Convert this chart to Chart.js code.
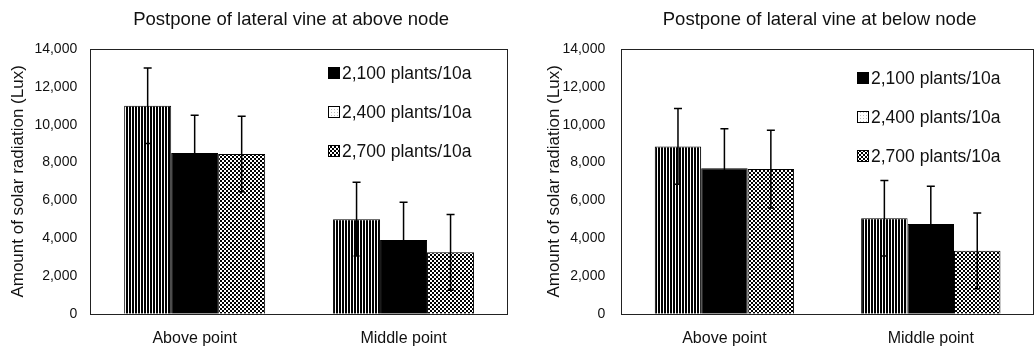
<!DOCTYPE html>
<html>
<head>
<meta charset="utf-8">
<script src="https://cdn.jsdelivr.net/npm/chart.js@4"></script>
<style>
  html, body { margin: 0; padding: 0; background: #fff; }
  .wrap { width: 1035px; height: 347px; display: flex; }
  canvas { display: block; }
</style>
</head>
<body>
<div class="wrap">
  <canvas id="left" width="517" height="347"></canvas>
  <canvas id="right" width="518" height="347"></canvas>
</div>
<script>
// categories + series (bar order: 2,400 / 2,100 / 2,700)
var categories = ['Above point', 'Middle point'];
var seriesNames = ['2,400 plants/10a', '2,100 plants/10a', '2,700 plants/10a'];
var legendOrder = [1, 0, 2];
var yMax = 14000;
var yStep = 2000;

// Postpone of lateral vine at above node
var aboveNode2400 = [11000, 5000];
var aboveNode2100 = [8500, 3900];
var aboveNode2700 = [8450, 3250];
var aboveNodeErr2400 = [2000, 1950];
var aboveNodeErr2100 = [2000, 2000];
var aboveNodeErr2700 = [2000, 2000];

// Postpone of lateral vine at below node
var belowNode2400 = [8850, 5050];
var belowNode2100 = [7700, 4750];
var belowNode2700 = [7650, 3330];
var belowNodeErr2400 = [2000, 2000];
var belowNodeErr2100 = [2080, 2000];
var belowNodeErr2700 = [2050, 2000];

Chart.defaults.font.family = '"Liberation Sans", Arial, sans-serif';
Chart.defaults.color = '#111';

function pattern(w, h, draw) {
  var c = document.createElement('canvas');
  c.width = w; c.height = h;
  var g = c.getContext('2d');
  g.fillStyle = '#fff';
  g.fillRect(0, 0, w, h);
  g.fillStyle = '#000';
  draw(g);
  return c.getContext('2d').createPattern(c, 'repeat');
}

var stripes = pattern(3, 1, function (g) { g.fillRect(0, 0, 2, 1); });
var checker = pattern(4, 4, function (g) { g.fillRect(0, 0, 2, 2); g.fillRect(2, 2, 2, 2); });
var lightDots = pattern(3, 3, function (g) { g.fillStyle = '#bbb'; g.fillRect(1, 1, 1, 1); });
var fills = [stripes, '#000', checker];
var legendFills = [lightDots, '#000', checker];

var extras = {
  id: 'extras',
  afterDatasetsDraw: function (chart) {
    var ctx = chart.ctx, y = chart.scales.y;
    ctx.save();
    ctx.strokeStyle = '#000';
    ctx.lineWidth = 1.5;
    chart.data.datasets.forEach(function (ds, i) {
      var meta = chart.getDatasetMeta(i);
      ds.errors.forEach(function (e, j) {
        var x = meta.data[j].x;
        var top = y.getPixelForValue(ds.data[j] + e);
        var bot = y.getPixelForValue(ds.data[j] - e);
        ctx.beginPath();
        ctx.moveTo(x, top); ctx.lineTo(x, bot);
        ctx.moveTo(x - 4, top); ctx.lineTo(x + 4, top);
        ctx.moveTo(x - 3, bot); ctx.lineTo(x + 3, bot);
        ctx.stroke();
      });
    });
    ctx.restore();
  },
  afterDraw: function (chart) {
    var ctx = chart.ctx, a = chart.chartArea;
    var opts = chart.options.plugins.extras;
    ctx.save();
    // frame round the plot
    ctx.strokeStyle = '#222';
    ctx.lineWidth = 1;
    ctx.strokeRect(Math.round(a.left) + 0.5, Math.round(a.top) + 0.5,
      Math.round(a.right - a.left) - 1, Math.round(a.bottom - a.top));
    // title over the plot
    ctx.fillStyle = '#111';
    ctx.font = '18.5px "Liberation Sans", Arial, sans-serif';
    ctx.textAlign = 'center';
    ctx.textBaseline = 'middle';
    ctx.fillText(opts.title, (a.left + a.right) / 2 - 8, 20);
    // legend inside the plot
    ctx.font = '17.5px "Liberation Sans", Arial, sans-serif';
    ctx.textAlign = 'left';
    legendOrder.forEach(function (k, n) {
      var bx = a.right - opts.legendRight;
      var cy = a.top + opts.legendTop + n * 39;
      ctx.fillStyle = legendFills[k];
      ctx.fillRect(bx, cy - 6, 12, 12);
      ctx.strokeStyle = '#000';
      ctx.strokeRect(bx + 0.5, cy - 5.5, 11, 11);
      ctx.fillStyle = '#111';
      ctx.fillText(seriesNames[k], bx + 14, cy + 1);
    });
    ctx.restore();
  }
};

function makeChart(id, title, values, errors, pad, tickPad, titlePad, legendRight, legendTop) {
  new Chart(document.getElementById(id), {
    type: 'bar',
    data: {
      labels: categories,
      datasets: seriesNames.map(function (name, i) {
        return {
          label: name,
          data: values[i],
          errors: errors[i],
          backgroundColor: fills[i],
          borderColor: '#000',
          borderWidth: 1,
          categoryPercentage: 0.675,
          barPercentage: 1.0
        };
      })
    },
    options: {
      responsive: false,
      animation: false,
      locale: 'en-US',
      layout: { padding: pad },
      plugins: {
        legend: { display: false },
        tooltip: { enabled: false },
        extras: { title: title, legendRight: legendRight, legendTop: legendTop }
      },
      scales: {
        x: {
          grid: { display: false, drawTicks: false },
          border: { display: false },
          ticks: { padding: 15, font: { size: 16 }, color: '#111' }
        },
        y: {
          min: 0, max: yMax,
          grid: { display: false, drawTicks: false },
          border: { display: false },
          ticks: { stepSize: yStep, padding: tickPad, font: { size: 14 }, color: '#111' },
          title: {
            display: true,
            text: 'Amount of solar radiation (Lux)',
            font: { size: 17 },
            color: '#111',
            padding: titlePad
          }
        }
      }
    },
    plugins: [extras]
  });
}

makeChart('left', 'Postpone of lateral vine at above node',
  [aboveNode2400, aboveNode2100, aboveNode2700],
  [aboveNodeErr2400, aboveNodeErr2100, aboveNodeErr2700],
  { left: 6, top: 49, right: 9, bottom: -16 }, 13, { top: 2, bottom: -7 }, 180, 24);

makeChart('right', 'Postpone of lateral vine at below node',
  [belowNode2400, belowNode2100, belowNode2700],
  [belowNodeErr2400, belowNodeErr2100, belowNodeErr2700],
  { left: 25, top: 49, right: 1, bottom: -16 }, 16, { top: 2, bottom: -18 }, 177, 29);
</script>
</body>
</html>
